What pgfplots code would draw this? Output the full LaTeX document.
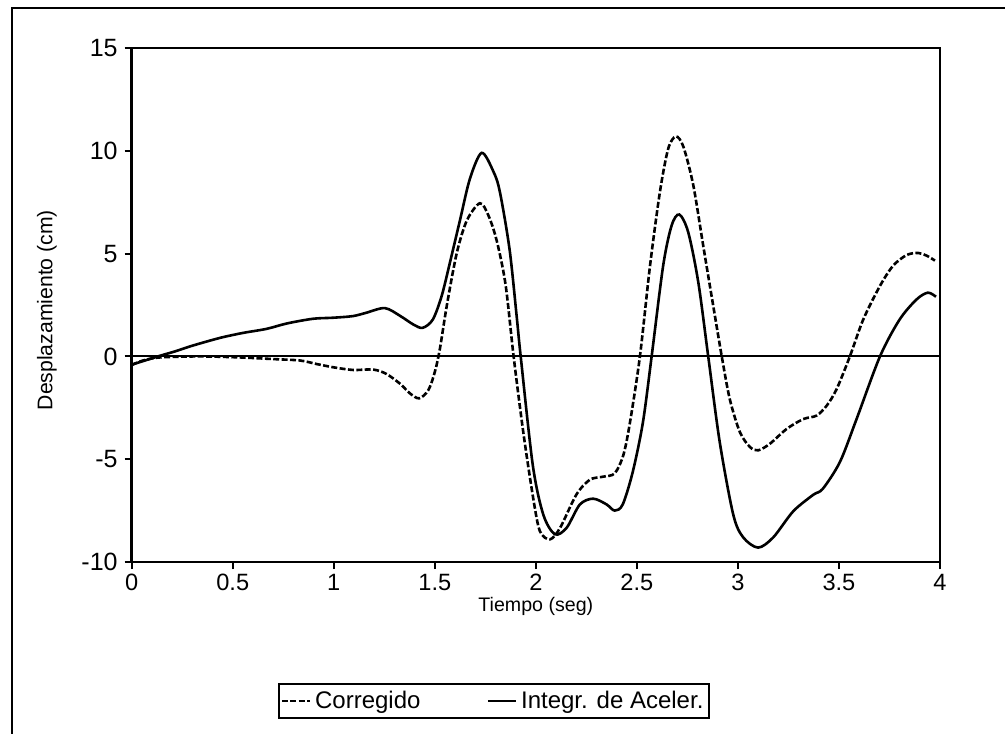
\documentclass[border=0pt]{standalone}
\usepackage{fontspec}
\setmainfont{Liberation Sans}
\usepackage{pgfplots}
\pgfplotsset{compat=1.18}
\begin{document}
\begin{tikzpicture}
\useasboundingbox (0,0) rectangle (502.5pt,366.5pt);
\draw[line width=1.3pt] (6pt,-2pt) -- (6pt,362.5pt) -- (505pt,362.5pt);
\begin{axis}[
  at={(65.85pt,85.5pt)}, anchor=south west,
  scale only axis, width=404.15pt, height=257pt,
  xmin=0, xmax=4, ymin=-10, ymax=15,
  xtick={0,0.5,1,1.5,2,2.5,3,3.5,4},
  xticklabels={0,0.5,1,1.5,2,2.5,3,3.5,4},
  ytick={-10,-5,0,5,10,15},
  tick pos=left, tick align=outside, major tick length=3.5pt,
  axis line style={line width=1.4pt},
  tick style={line width=1pt, black},
  /pgf/number format/assume math mode=true,
  yticklabel style={font=\fontsize{12.5}{14}\selectfont},
  xticklabel style={font=\fontsize{11.8}{13}\selectfont, yshift=1pt},
  xlabel={Tiempo (seg)}, ylabel={Desplazamiento (cm)},
  xlabel style={font=\fontsize{9.8}{11}\selectfont, at={(axis description cs:0.5,-0.087)}, anchor=center},
  ylabel style={font=\fontsize{10.6}{12}\selectfont, at={(axis description cs:-0.1048,0.49)}, anchor=center},
  legend columns=2,
  legend style={at={(axis description cs:0.4482,-0.2704)}, anchor=center,
    draw=black, line width=1pt, font=\fontsize{12}{14}\selectfont,
    inner xsep=1pt, inner ysep=1.5pt,
    /tikz/every even column/.append style={column sep=31pt}},
  legend image code/.code={\draw[#1] (0pt,0pt) -- (14pt,0pt);},
]
\addplot[forget plot, black, line width=1.1pt] coordinates {(0,0) (4,0)};
\addplot[black, line width=1.3pt, dash pattern=on 3pt off 1.2pt, smooth, tension=0.5] coordinates {
(0,-0.42) (0.056,-0.2) (0.14,-0.05) (0.338,0) (0.536,-0.05) (0.70,-0.13)
(0.833,-0.2) (0.915,-0.37) (0.998,-0.53) (1.096,-0.66) (1.195,-0.64)
(1.26,-0.85) (1.328,-1.33) (1.377,-1.8) (1.423,-2.04) (1.468,-1.64)
(1.5,-0.76) (1.525,0.36) (1.559,2.45) (1.608,5.0) (1.658,6.6) (1.723,7.45)
(1.765,6.86) (1.806,5.64) (1.85,3.5) (1.89,0) (1.938,-3.7) (1.987,-6.9)
(2.02,-8.5) (2.07,-8.9) (2.12,-8.34) (2.20,-6.73) (2.267,-6.0) (2.333,-5.85)
(2.39,-5.69) (2.433,-4.8) (2.466,-3.2) (2.515,0) (2.565,4.41) (2.614,8.0)
(2.655,10.1) (2.693,10.7) (2.73,10.2) (2.779,8.33) (2.828,5.4) (2.878,2.45)
(2.92,0) (2.96,-2.09) (3.01,-3.69) (3.06,-4.41) (3.10,-4.57) (3.158,-4.25)
(3.241,-3.53) (3.323,-3.05) (3.389,-2.88) (3.439,-2.4) (3.488,-1.6)
(3.554,0) (3.62,1.79) (3.703,3.43) (3.768,4.41) (3.835,4.93) (3.892,5.03)
(3.934,4.9) (3.975,4.66)
};
\addlegendentry{Corregido}
\addplot[black, line width=1.3pt, smooth, tension=0.5] coordinates {
(0,-0.40) (0.056,-0.23) (0.14,0.03) (0.22,0.26) (0.30,0.52) (0.437,0.9)
(0.55,1.14) (0.668,1.34) (0.767,1.6) (0.897,1.83) (0.996,1.88) (1.095,1.96)
(1.16,2.12) (1.253,2.35) (1.33,1.96) (1.394,1.55) (1.44,1.39) (1.49,1.79)
(1.534,2.94) (1.575,4.57) (1.624,6.6) (1.674,8.65) (1.732,9.9) (1.79,8.99)
(1.822,8.0) (1.87,5.2) (1.905,1.96) (1.925,0) (1.985,-5.3) (2.037,-7.7)
(2.094,-8.65) (2.152,-8.34) (2.218,-7.2) (2.284,-6.92) (2.35,-7.2)
(2.39,-7.5) (2.43,-7.2) (2.48,-5.6) (2.53,-3.2) (2.573,0) (2.63,4.41)
(2.672,6.37) (2.71,6.9) (2.754,6.04) (2.804,3.6) (2.853,0) (2.91,-4.17)
(2.977,-7.7) (3.026,-8.8) (3.1,-9.3) (3.175,-8.8) (3.274,-7.53) (3.373,-6.73)
(3.42,-6.44) (3.505,-5.13) (3.587,-3.05) (3.703,0) (3.80,1.79) (3.884,2.77)
(3.94,3.1) (3.98,2.9)
};
\addlegendentry{Integr. de Aceler.}
\end{axis}
\end{tikzpicture}
\end{document}
